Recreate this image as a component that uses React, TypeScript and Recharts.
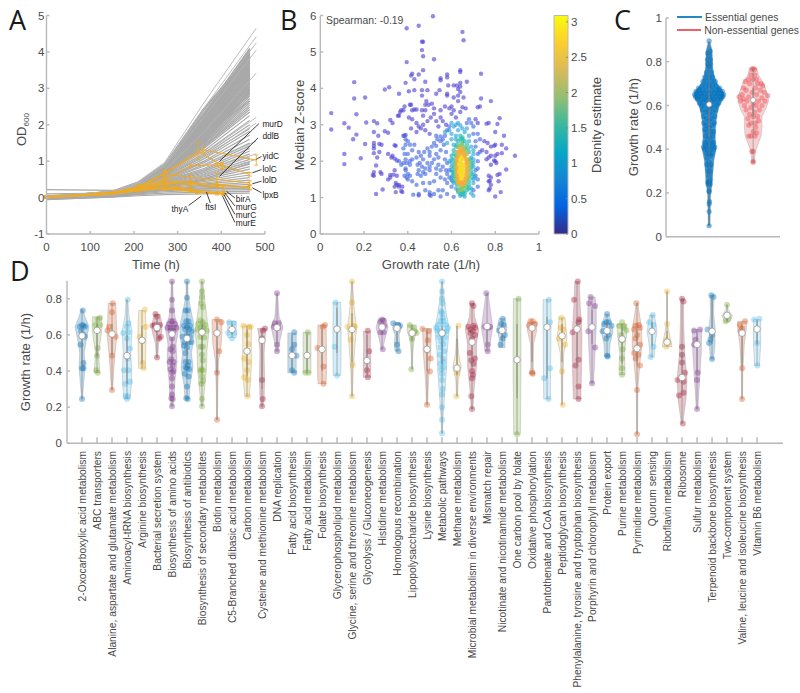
import React from 'react';
import { ComposedChart, ScatterChart, Line, Scatter, XAxis, YAxis, ErrorBar, ReferenceLine, ReferenceArea, Legend } from 'recharts';

const FONT = '"Liberation Sans", Arial, sans-serif';
const TXT = '#4a4a4a';
const AX = '#b8b8b8';

// ---------- Panel A ----------
const grayTimes = [0, 150, 210, 270, 360, 465];
const grayLongTimes = [0, 150, 210, 270, 360, 480];
const grayRows = [
  [.01,.17,.42,.92,2.32,4.1],[.02,.17,.41,.9,2.25,4.05],[.0,.16,.4,.88,2.2,4.0],[.03,.16,.4,.87,2.16,3.95],[.01,.16,.39,.85,2.12,3.9],
  [.02,.15,.38,.84,2.1,3.85],[.0,.15,.38,.83,2.06,3.8],[.04,.15,.37,.82,2.04,3.75],[.02,.15,.37,.81,2.02,3.72],[.01,.14,.36,.8,2.0,3.68],
  [.03,.14,.36,.8,1.97,3.62],[.0,.14,.36,.78,1.95,3.58],[.02,.14,.35,.78,1.93,3.54],[.01,.14,.35,.77,1.91,3.5],[.03,.14,.35,.76,1.88,3.44],
  [.02,.13,.34,.76,1.86,3.4],[.0,.13,.34,.75,1.84,3.36],[.01,.13,.34,.74,1.82,3.32],[.03,.13,.33,.74,1.8,3.27],[.02,.13,.33,.73,1.77,3.22],
  [.0,.13,.33,.72,1.75,3.17],[.01,.13,.32,.72,1.72,3.12],[.03,.12,.32,.71,1.7,3.07],[.02,.12,.32,.7,1.67,3.02],[.0,.12,.31,.7,1.64,2.96],
  [.01,.12,.31,.69,1.62,2.9],[.03,.12,.31,.68,1.59,2.84],[.02,.12,.3,.68,1.56,2.78],[.0,.12,.3,.67,1.53,2.72],[.01,.11,.3,.66,1.5,2.66],
  [.02,.11,.29,.65,1.47,2.6],[.0,.11,.29,.64,1.44,2.54],[.02,.11,.29,.63,1.41,2.48],[.01,.11,.28,.62,1.38,2.42],[.01,.11,.28,.62,1.35,2.35],
  [.0,.11,.28,.6,1.28,2.25],[.02,.1,.27,.58,1.22,2.12],[.01,.1,.27,.56,1.16,2.0],[.0,.1,.26,.55,1.12,1.9],[.02,.1,.26,.53,1.06,1.82],
  [.01,.1,.25,.52,1.0,1.72],[.0,.09,.25,.5,.96,1.6],[.02,.09,.24,.48,.9,1.5],[.01,.09,.24,.47,.86,1.42],[.0,.09,.23,.45,.8,1.35],
  [.02,.09,.23,.44,.76,1.28],[.01,.08,.22,.42,.72,1.2],[.0,.08,.22,.41,.68,1.12],[.02,.08,.21,.39,.64,1.05],[.01,.08,.21,.38,.6,.98],
  [.0,.08,.2,.36,.57,.92],[.02,.07,.19,.35,.53,.85],[.01,.07,.19,.33,.5,.78],[.0,.07,.18,.32,.47,.7],[.02,.07,.18,.3,.44,.62],
  [.01,.06,.17,.29,.4,.55],[.0,.06,.16,.27,.37,.48],[.02,.06,.15,.25,.33,.42],[.0,.06,.14,.23,.3,.36],[-.02,.05,.13,.21,.27,.31],
  [-.03,.04,.12,.19,.24,.27],[-.04,.03,.1,.16,.2,.22],[-.06,.02,.08,.12,.15,.17],[-.05,.01,.05,.08,.1,.12],[.22,.2,.2,.22,.24,.26],
  [.1,.12,.18,.28,.5,.95],[.05,.14,.3,.68,1.85,3.3],[.02,.15,.36,.86,2.4,3.98],[.01,.17,.4,.9,2.45,3.92],[.0,.14,.33,.75,2.2,3.75],
  [.01,.16,.38,.84,2.3,3.86],[.02,.15,.36,.8,2.18,3.7],[.0,.14,.35,.78,2.1,3.6],[.03,.14,.34,.76,2.02,3.48],[.01,.13,.33,.72,1.95,3.36],
  [.02,.13,.33,.7,1.88,3.25],[.0,.12,.31,.68,1.8,3.14],[.01,.12,.31,.66,1.72,3.05],[.02,.12,.3,.66,1.68,2.95],[.0,.12,.3,.64,1.62,2.88],
  [.01,.16,.39,.86,2.0,3.3],[.02,.15,.37,.83,1.95,3.15],[.0,.15,.36,.8,1.9,3.0],[.01,.14,.35,.78,1.82,2.8],[.03,.14,.34,.75,1.72,2.65],
  [.01,.16,.4,.89,2.28,4.08],[.02,.16,.39,.86,2.2,4.02],[.0,.15,.38,.85,2.14,3.97],[.02,.15,.37,.83,2.08,3.92],[.01,.15,.37,.82,2.06,3.88],
  [.03,.15,.36,.8,2.04,3.83],[.0,.14,.36,.8,2.02,3.78],[.01,.14,.35,.79,1.98,3.7],[.02,.14,.35,.78,1.96,3.66],[.0,.14,.35,.77,1.94,3.6],
  [.01,.13,.34,.76,1.9,3.56],[.03,.13,.34,.75,1.88,3.52],[.02,.13,.33,.74,1.85,3.46],[.0,.13,.33,.73,1.83,3.42],[.01,.13,.33,.72,1.8,3.38],
  [.02,.13,.32,.71,1.78,3.34],[.0,.12,.32,.7,1.75,3.29],[.01,.12,.32,.7,1.72,3.24],[.03,.12,.31,.69,1.7,3.2],[.02,.12,.31,.68,1.67,3.15],
  [.0,.12,.31,.67,1.64,3.1],[.01,.12,.3,.66,1.61,3.04],[.02,.12,.3,.65,1.58,2.98],[.0,.11,.3,.65,1.55,2.92],[.01,.11,.29,.64,1.52,2.86],
];
const grayLongRows = [
  [.02,.18,.44,.96,2.6,4.65],[.03,.17,.42,.92,2.45,4.42],[.0,.16,.41,.9,2.35,4.25],[.02,.15,.39,.86,2.2,4.05],[.01,.14,.35,.74,1.8,3.42],
  [.01,.1,.27,.55,1.2,2.2],[.02,.1,.25,.5,1.08,2.05],[.0,.09,.24,.46,.9,1.55],[.01,.08,.22,.42,.75,1.2],[.0,.08,.2,.37,.62,1.05],
];
const orangeSeries = [
  { t: [0,120,210,270,360,480], v: [.02,.08,.25,.65,1.31,1.03], e: [.02,.02,.05,.1,.08,.14] },
  { t: [0,150,210,270,347,402,465], v: [.0,.12,.3,.67,1.28,.88,.64], e: [.02,.02,.05,.08,.24,.08,.05] },
  { t: [0,120,210,270,330,390,402], v: [.03,.1,.25,.47,.87,.9,.85], e: [.02,.02,.04,.06,.03,.05,.08] },
  { t: [0,150,210,270,330,390,465], v: [.01,.14,.28,.66,.55,.5,.4], e: [.02,.02,.04,.06,.1,.16,.06] },
  { t: [0,120,180,270,330,390,465], v: [.02,.1,.2,.5,.42,.33,.28], e: [.02,.02,.03,.06,.05,.04,.07] },
  { t: [0,150,240,270,330,405], v: [.02,.13,.3,.4,.35,.27], e: [.02,.02,.05,.05,.04,.06] },
  { t: [0,150,210,270,345,405], v: [.0,.1,.18,.25,.16,.11], e: [.02,.02,.03,.06,.03,.04] },
  { t: [0,180,270,330,390,405], v: [.01,.16,.3,.22,.14,.12], e: [.02,.03,.05,.04,.03,.04] },
  { t: [0,120,210,300,345,405], v: [.03,.1,.24,.25,.15,.09], e: [.02,.02,.03,.03,.03,.03] },
  { t: [0,150,240,330,390], v: [.02,.12,.26,.18,.1], e: [.02,.02,.03,.04,.03] },
  { t: [0,120,210,270,330,345], v: [.01,.08,.22,.36,.22,.14], e: [.02,.02,.03,.06,.03,.03] },
  { t: [0,150,210,270,390,465], v: [.01,.12,.24,.42,.36,.28], e: [.02,.02,.03,.05,.05,.05] },
];
const geneLeaders = [
  { name: 'murD', a: [396,1.0], b: [486,2.03], lab: [494,2.03] },
  { name: 'ddlB', a: [396,.586], b: [484,1.64], lab: [494,1.68] },
  { name: 'yidC', a: [480,1.05], b: [492,1.13], lab: [494,1.15] },
  { name: 'lolC', a: [471,.68], b: [492,.77], lab: [494,.79] },
  { name: 'lolD', a: [471,.38], b: [492,.45], lab: [494,.47] },
  { name: 'lpxB', a: [471,.27], b: [492,.13], lab: [494,.08] },
  { name: 'birA', a: [412,.17], b: [431,-.01], lab: [433,-.05] },
  { name: 'murG', a: [408,.13], b: [431,-.23], lab: [433,-.26] },
  { name: 'murC', a: [406,.08], b: [431,-.46], lab: [433,-.47] },
  { name: 'murE', a: [403,.04], b: [431,-.68], lab: [433,-.7] },
];
const geneLeadersLow = [
  { name: 'thyA', a: [354,.04], b: [325,-.22], lab: [286,-.31] },
  { name: 'ftsI', a: [366,.15], b: [375,-.15], lab: [363,-.25] },
];
const geneLabels = [...geneLeaders, ...geneLeadersLow].map((g) => ({ x: g.lab[0], y: g.lab[1], name: g.name }));

// ---------- Panel B ----------
const densityPurple = [[.05,3.32],[.05,2.87],[.11,3.04],[.13,2.92],[.15,2.6],[.165,2.73],[.155,3.72],[.155,4.17],[.165,3.29],[.205,3.75],[.21,3.06],[.11,2.2],[.11,1.92],[.185,2.08],[.205,2.47],[.245,3.1],[.26,3.04],[.245,2.8],[.265,2.7],[.245,2.5],[.245,2.42],[.245,2.35],[.27,2.47],[.28,2.45],[.27,2.25],[.245,2.22],[.26,2.1],[.255,1.88],[.28,1.65],[.275,1.7],[.245,1.7],[.245,1.6],[.24,1.62],[.255,1.1],[.285,1.22],[.295,2.82],[.31,2.78],[.295,3.97],[.315,4.03],[.32,3.13],[.33,3.05],[.31,2.2],[.325,2.1],[.34,2.07],[.35,2.02],[.31,1.5],[.32,1.62],[.335,1.63],[.34,1.75],[.34,1.3],[.345,1.4],[.345,1.15],[.36,1.3],[.37,1.18],[.375,1.15],[.375,1.3],[.36,3.85],[.355,3.25],[.36,3.25],[.365,3.35],[.37,3.4],[.38,3.4],[.385,3.5],[.39,4.15],[.395,5.65],[.395,4.72],[.405,3.92],[.41,3.55],[.415,4.35],[.42,4.4],[.43,4.25],[.43,3.95],[.415,3.55],[.43,3.42],[.44,3.42],[.42,3.4],[.42,3.15],[.405,3.2],[.415,2.9],[.45,4.38],[.45,5.72],[.465,5.05],[.47,5.28],[.465,5.28],[.47,4.88],[.47,4.5],[.465,3.95],[.465,3.8],[.48,4.18],[.49,3.95],[.485,3.65],[.465,3.4],[.48,3.4],[.48,3.55],[.495,3.55],[.51,3.58],[.47,3.25],[.49,3.1],[.505,3.2],[.47,3.0],[.48,2.85],[.5,2.75],[.515,5.98],[.52,4.8],[.52,3.45],[.53,3.1],[.55,3.2],[.53,3.85],[.545,3.95],[.55,4.28],[.55,4.22],[.58,4.38],[.58,4.3],[.585,4.08],[.58,3.85],[.58,3.8],[.57,3.5],[.59,3.45],[.61,4.08],[.625,4.08],[.64,4.15],[.64,4.45],[.64,4.5],[.65,5.55],[.655,5.32],[.735,4.4],[.67,4.18],[.63,3.98],[.64,4.05],[.64,3.9],[.61,3.75],[.63,3.8],[.63,3.65],[.655,3.75],[.65,3.48],[.665,3.45],[.64,3.35],[.61,3.4],[.72,3.48],[.73,3.5],[.735,3.72],[.78,3.65],[.82,3.18],[.81,3.02],[.77,3.05],[.76,3.03],[.8,2.8],[.84,2.7],[.89,2.15],[.85,2.35],[.83,2.45],[.8,2.45],[.795,2.42],[.81,2.2],[.83,2.22],[.85,1.77],[.82,1.65],[.81,1.62],[.8,2.0],[.795,2.02],[.805,1.95],[.78,1.55],[.77,1.45],[.78,1.35],[.775,1.25],[.77,1.2],[.8,1.03],[.825,1.15],[.815,1.45],[.77,2.1],[.78,2.15],[.765,2.5],[.78,2.4],[.76,2.25],[.76,2.05],[.78,1.9],[.45,1.06],[.5,1.08],[.35,1.35],[.38,2.7],[.39,2.72],[.34,2.44],[.345,2.42],[.33,2.15],[.35,1.6],[.32,1.55],[.36,1.35],[.44,3.05],[.45,2.95],[.46,2.9],[.44,2.8],[.52,3.3],[.55,3.4],[.56,3.1],[.575,3.0],[.54,2.95],[.6,3.5],[.6,3.3],[.62,3.2],[.71,3.15],[.72,3.05],[.75,2.55],[.74,2.3],[.8,2.15],[.775,1.45],[.77,1.6]];
const densityBlue = [[.385,2.7],[.39,2.6],[.4,2.55],[.39,2.45],[.41,2.45],[.43,2.45],[.42,2.3],[.38,2.35],[.385,2.2],[.4,2.2],[.39,2.05],[.38,1.95],[.395,1.95],[.41,1.9],[.37,1.9],[.36,2.0],[.41,2.0],[.42,2.05],[.39,1.8],[.4,1.65],[.385,1.6],[.395,1.55],[.41,1.6],[.42,1.45],[.4,1.5],[.39,1.75],[.45,2.25],[.46,2.15],[.44,2.1],[.47,2.05],[.455,1.95],[.445,1.9],[.465,1.85],[.48,1.8],[.45,1.75],[.47,1.7],[.445,1.65],[.46,1.6],[.48,1.65],[.5,1.75],[.5,1.85],[.51,1.95],[.52,2.05],[.5,2.15],[.5,2.25],[.49,2.35],[.51,2.4],[.52,2.5],[.535,2.6],[.55,2.55],[.53,2.7],[.55,2.68],[.565,2.45],[.55,2.3],[.575,2.25],[.53,2.2],[.57,2.05],[.56,1.85],[.53,1.8],[.55,1.75],[.575,1.75],[.53,1.65],[.58,1.65],[.55,1.55],[.57,1.5],[.52,1.45],[.5,1.4],[.47,1.4],[.44,1.35],[.48,1.2],[.5,1.15],[.52,1.1],[.54,1.2],[.56,1.2],[.58,1.1],[.6,1.3],[.58,1.4],[.6,1.48],[.45,1.1],[.425,1.08],[.505,1.05],[.55,1.03],[.61,1.02],[.63,1.2],[.7,1.2],[.72,1.3],[.72,1.5],[.73,2.25],[.72,2.2],[.73,2.6],[.71,2.55],[.7,2.75],[.7,2.95],[.69,3.05],[.68,3.15],[.67,3.05],[.72,1.8],[.71,1.6],[.54,1.9],[.54,2.1],[.58,1.95],[.49,1.95],[.475,2.25],[.53,2.42],[.56,2.6],[.57,2.7],[.58,2.85],[.59,2.95],[.59,1.75],[.59,1.55],[.71,1.75],[.72,2.0],[.71,2.4],[.72,2.75]];
const densityLightBlue = [[.6,3.05],[.61,2.95],[.62,3.0],[.63,3.05],[.64,2.98],[.59,2.85],[.6,2.75],[.57,2.8],[.6,2.6],[.58,2.5],[.61,2.45],[.61,2.3],[.6,2.15],[.59,2.0],[.6,1.85],[.605,1.7],[.6,1.55],[.61,1.4],[.62,1.25],[.66,1.03],[.7,1.05],[.69,1.25],[.7,1.4],[.705,1.55],[.7,1.95],[.69,2.1],[.7,2.3],[.69,2.4],[.68,2.55],[.68,2.7],[.66,2.8],[.65,2.9],[.67,2.9],[.63,2.85],[.62,2.7],[.62,2.6],[.6,1.95],[.6,2.05],[.6,1.75],[.605,1.6],[.605,1.45],[.7,1.5],[.7,1.65],[.7,1.85],[.7,2.05],[.7,2.2],[.65,1.08],[.69,1.12],[.64,1.05]];
const densityTeal = [[.64,2.7],[.65,2.65],[.63,2.55],[.65,2.5],[.67,2.45],[.66,2.35],[.62,2.4],[.61,2.2],[.68,2.25],[.69,1.65],[.68,1.45],[.625,1.35],[.615,1.55],[.615,1.75],[.615,1.95],[.62,2.15],[.63,1.15],[.64,1.1],[.66,1.12],[.67,1.2],[.68,1.25],[.65,2.6],[.69,1.85],[.685,2.05],[.64,2.6],[.66,2.55],[.625,2.45],[.675,2.35],[.61,1.85],[.61,1.65],[.61,2.05],[.69,1.75],[.69,1.95],[.69,1.55],[.68,1.35],[.62,1.45],[.645,1.18],[.655,1.15],[.67,1.3]];
const densityGreen = [[.63,2.38],[.64,2.42],[.655,2.4],[.67,2.2],[.675,2.05],[.68,1.9],[.675,1.7],[.67,1.5],[.665,1.4],[.62,1.5],[.62,1.7],[.62,1.9],[.625,2.1],[.63,1.4],[.64,1.28],[.655,1.25],[.66,1.32],[.635,1.2],[.645,2.47],[.665,2.3],[.62,2.0],[.62,1.8],[.62,1.6],[.68,1.8],[.68,1.6],[.68,2.0],[.675,1.55],[.625,2.25],[.65,1.3],[.645,1.22]];
const densityOrange = [[.64,2.35],[.65,2.3],[.63,2.25],[.66,2.2],[.625,2.05],[.665,2.05],[.625,1.85],[.67,1.85],[.63,1.65],[.665,1.65],[.63,1.5],[.66,1.5],[.64,1.38],[.65,1.38],[.635,2.15],[.655,2.12],[.64,2.25],[.628,1.75],[.668,1.75],[.628,1.95],[.668,1.95],[.635,1.55],[.655,1.42],[.645,1.45],[.65,2.22],[.66,2.12],[.63,2.1],[.67,1.95],[.63,1.42],[.66,1.42],[.665,1.55],[.63,1.58],[.625,1.7],[.67,1.7],[.648,2.28]];
const densityYellow = [[.64,2.05],[.65,2.05],[.645,1.95],[.635,1.9],[.655,1.9],[.64,1.8],[.65,1.8],[.645,1.7],[.635,1.7],[.655,1.7],[.64,1.6],[.65,1.6],[.645,1.52],[.645,2.1],[.64,1.95],[.65,1.65],[.638,1.75],[.652,1.85],[.642,1.85],[.648,1.75]];
const densityBands = [
  { pts: densityPurple, color: '#4f42d2', op: .62 }, { pts: densityBlue, color: '#3a62e0', op: .6 },
  { pts: densityLightBlue, color: '#229fd8', op: .6 }, { pts: densityTeal, color: '#1ebcae', op: .65 },
  { pts: densityGreen, color: '#8fc663', op: .8 }, { pts: densityOrange, color: '#f5ad3a', op: .9 },
  { pts: densityYellow, color: '#f9d92c', op: .9 },
];
const parulaStops = ['#352a87','#0363e1','#1485d4','#06a7c6','#38b99e','#92bf73','#d9ba56','#fcce2e','#f9fb0e'];
const colorbarDomain = [{ x: 0, y: 0 }, { x: 1, y: 3.09 }];

// ---------- Panel C ----------
const essOutline = [[.05,.02],[.2,.035],[.24,.07],[.3,.09],[.35,.11],[.4,.16],[.45,.14],[.5,.15],[.55,.17],[.6,.23],[.63,.32],[.65,.35],[.67,.3],[.7,.18],[.74,.11],[.78,.08],[.85,.07],[.89,.02]];
const nonOutline = [[.34,.03],[.39,.05],[.46,.18],[.5,.2],[.55,.2],[.58,.28],[.62,.35],[.65,.33],[.7,.24],[.74,.12],[.77,.08]];
const essDots = [[0,.05],[0,.115],[0,.15],[.01,.16],[0,.205],[0,.21],[-.02,.24],[.02,.24],[0,.25],[-.03,.25],[.02,.26],[0,.28],[-.02,.3],[.02,.3],[0,.32],[-.05,.33],[.04,.33],[0,.34],[-.04,.36],[.03,.37],[0,.38],[-.06,.38],[.06,.38],[-.1,.4],[-.04,.4],[.03,.4],[.1,.4],[-.13,.41],[.13,.41],[-.07,.42],[.07,.42],[0,.42],[-.1,.43],[.1,.43],[-.04,.44],[.04,.44],[-.08,.46],[.08,.46],[0,.46],[-.05,.48],[.05,.48],[.1,.48],[-.1,.49],[0,.5],[-.07,.51],[.07,.51],[-.12,.52],[.12,.52],[0,.53],[-.06,.54],[.06,.54],[-.13,.55],[.13,.55],[0,.56],[-.08,.57],[.08,.57],[-.15,.58],[.15,.58],[-.03,.58],[.03,.59],[-.18,.6],[.18,.6],[-.1,.6],[.1,.6],[0,.6],[-.22,.61],[.22,.61],[-.14,.62],[.14,.62],[-.05,.62],[.05,.62],[-.27,.63],[.27,.63],[-.2,.63],[.2,.63],[-.1,.63],[.1,.63],[-.31,.64],[.31,.64],[-.25,.64],[.25,.64],[-.17,.645],[.17,.645],[-.07,.64],[.07,.64],[0,.64],[-.33,.65],[.33,.65],[-.28,.655],[.28,.655],[-.2,.655],[.2,.655],[-.12,.655],[.12,.655],[-.03,.655],[.03,.655],[-.3,.665],[.3,.665],[-.22,.67],[.22,.67],[-.15,.67],[.15,.67],[-.06,.67],[.06,.67],[-.24,.68],[.24,.68],[-.16,.69],[.16,.69],[-.08,.69],[.08,.69],[0,.69],[-.14,.71],[.14,.71],[-.05,.71],[.05,.71],[-.1,.73],[.08,.73],[0,.73],[-.06,.75],[.05,.75],[0,.77],[-.03,.79],[.03,.79],[0,.78],[-.04,.81],[.03,.81],[0,.83],[-.03,.84],[.02,.85],[0,.895]];
const nonDots = [[.0,.34],[0,.39],[.0,.345],[-.03,.39],[-.05,.46],[.04,.46],[.08,.475],[-.1,.46],[0,.48],[.06,.5],[-.1,.51],[-.05,.52],[.05,.52],[.12,.53],[-.12,.54],[0,.55],[.1,.55],[-.08,.56],[.03,.57],[-.16,.58],[.14,.58],[-.05,.59],[.07,.6],[-.2,.6],[.2,.6],[-.28,.62],[.27,.62],[-.14,.62],[.12,.62],[0,.61],[-.22,.63],[.2,.635],[-.32,.64],[.33,.645],[-.1,.64],[.08,.65],[-.25,.65],[.25,.66],[-.02,.66],[-.16,.67],[.16,.67],[.05,.68],[-.22,.68],[.22,.69],[-.08,.7],[.1,.7],[-.18,.71],[.18,.7],[0,.72],[-.1,.72],[.08,.72],[-.05,.74],[.04,.74],[-.03,.765],[.03,.765],[0,.77]];

// ---------- Panel D ----------
const categories = ['2-Oxocarboxylic acid metabolism','ABC transporters','Alanine, aspartate and glutamate metabolism','Aminoacyl-tRNA biosynthesis','Arginine biosynthesis','Bacterial secretion system','Biosynthesis of amino acids','Biosynthesis of antibiotics','Biosynthesis of secondary metabolites','Biotin metabolism','C5-Branched dibasic acid metabolism','Carbon metabolism','Cysteine and methionine metabolism','DNA replication','Fatty acid biosynthesis','Fatty acid metabolism','Folate biosynthesis','Glycerophospholipid metabolism','Glycine, serine and threonine metabolism','Glycolysis / Gluconeogenesis','Histidine metabolism','Homologous recombination','Lipopolysaccharide biosynthesis','Lysine biosynthesis','Metabolic pathways','Methane metabolism','Microbial metabolism in diverse environments','Mismatch repair','Nicotinate and nicotinamide metabolism','One carbon pool by folate','Oxidative phosphorylation','Pantothenate and CoA biosynthesis','Peptidoglycan biosynthesis','Phenylalanine, tyrosine and tryptophan biosynthesis','Porphyrin and chlorophyll metabolism','Protein export','Purine metabolism','Pyrimidine metabolism','Quorum sensing','Riboflavin metabolism','Ribosome','Sulfur metabolism','Terpenoid backbone biosynthesis','Two-component system','Valine, leucine and isoleucine biosynthesis','Vitamin B6 metabolism'];
const colorCycle = ['#0072BD','#77AC30','#D95319','#4DBEEE','#EDB120','#A2142F','#7E2F8E'];
const medians = [.595,.625,.605,.485,.57,.64,.605,.58,.615,.61,.63,.51,.57,.64,.486,.486,.52,.632,.63,.458,.643,.637,.61,.52,.61,.416,.56,.647,.625,.462,.638,.643,.595,.632,.643,.623,.577,.525,.62,.56,.364,.547,.62,.708,.61,.632];
const boxes = [[.42,.645],[.48,.66],[.49,.66],[.33,.6],[.44,.65],[.59,.68],[.42,.66],[.42,.65],[.42,.66],[.39,.67],[.6,.66],[.37,.63],[.3,.63],[.55,.66],[.4,.6],[.4,.6],[.4,.63],[.5,.75],[.45,.72],[.38,.6],[.6,.67],[.55,.66],[.57,.64],[.4,.62],[.44,.65],[.38,.58],[.42,.64],[.56,.66],[.57,.66],[.25,.66],[.45,.66],[.36,.7],[.45,.66],[.43,.68],[.55,.74],[.58,.67],[.44,.64],[.43,.63],[.54,.67],[.54,.62],[.27,.5],[.39,.62],[.55,.8],[.68,.72],[.43,.65],[.55,.68]];
const outlines = [
  [[.245,.03],[.3,.08],[.42,.2],[.5,.15],[.58,.3],[.645,.47],[.7,.2],[.74,.06]],
  [[.39,.18],[.41,.18],[.5,.1],[.58,.25],[.64,.33],[.7,.3]],
  [[.295,.04],[.4,.12],[.5,.2],[.6,.33],[.7,.28],[.775,.25]],
  [[.245,.2],[.33,.3],[.42,.3],[.5,.25],[.62,.33],[.7,.14],[.795,.05]],
  [[.415,.22],[.5,.25],[.6,.27],[.68,.25],[.735,.22]],
  [[.475,.05],[.55,.1],[.62,.33],[.66,.33],[.715,.2]],
  [[.205,.06],[.26,.15],[.35,.2],[.45,.33],[.55,.27],[.64,.45],[.7,.2],[.8,.08],[.895,.05]],
  [[.245,.13],[.32,.2],[.42,.4],[.5,.3],[.6,.47],[.66,.45],[.74,.25],[.82,.07],[.895,.05]],
  [[.205,.06],[.3,.17],[.42,.3],[.52,.33],[.62,.47],[.68,.35],[.78,.2],[.895,.05]],
  [[.13,.03],[.3,.05],[.45,.1],[.55,.28],[.62,.33],[.685,.33]],
  [[.585,.28],[.62,.28],[.675,.28]],
  [[.26,.15],[.36,.25],[.45,.3],[.55,.28],[.65,.3]],
  [[.205,.06],[.25,.14],[.35,.17],[.5,.14],[.6,.22],[.635,.3]],
  [[.51,.1],[.55,.14],[.6,.28],[.645,.4],[.7,.14],[.83,.04]],
  [[.39,.28],[.5,.28],[.61,.28]],
  [[.39,.26],[.5,.26],[.615,.26]],
  [[.33,.27],[.4,.3],[.52,.3],[.6,.28],[.655,.28]],
  [[.375,.25],[.5,.27],[.65,.27],[.78,.25]],
  [[.26,.03],[.4,.08],[.55,.2],[.64,.3],[.75,.14],[.895,.04]],
  [[.365,.25],[.45,.25],[.55,.22],[.62,.24]],
  [[.52,.05],[.58,.2],[.64,.4],[.69,.25]],
  [[.51,.14],[.55,.18],[.6,.14],[.64,.3],[.67,.2]],
  [[.41,.03],[.5,.05],[.58,.15],[.62,.33],[.655,.28]],
  [[.213,.04],[.35,.1],[.5,.25],[.6,.28],[.635,.3]],
  [[.055,.03],[.15,.07],[.3,.2],[.42,.3],[.5,.33],[.6,.45],[.64,.47],[.72,.28],[.8,.14],[.895,.03]],
  [[.26,.03],[.35,.08],[.42,.28],[.5,.1],[.58,.04],[.65,.03]],
  [[.19,.06],[.3,.14],[.42,.3],[.55,.3],[.63,.45],[.7,.17],[.775,.13]],
  [[.51,.14],[.55,.2],[.64,.38],[.72,.25],[.83,.07]],
  [[.53,.2],[.58,.2],[.64,.33],[.69,.2]],
  [[.05,.22],[.4,.26],[.6,.26],[.8,.24]],
  [[.385,.2],[.42,.08],[.55,.1],[.62,.3],[.67,.32]],
  [[.245,.22],[.5,.25],[.7,.27],[.795,.25]],
  [[.213,.03],[.35,.05],[.5,.12],[.58,.33],[.64,.25],[.695,.2]],
  [[.245,.25],[.4,.3],[.6,.33],[.75,.22],[.895,.15]],
  [[.333,.1],[.5,.2],[.65,.28],[.75,.28],[.81,.2]],
  [[.48,.16],[.55,.2],[.62,.4],[.68,.27],[.715,.1]],
  [[.38,.2],[.42,.2],[.5,.15],[.6,.3],[.66,.33]],
  [[.05,.03],[.3,.05],[.45,.2],[.55,.33],[.65,.28],[.775,.05]],
  [[.477,.14],[.55,.2],[.62,.33],[.71,.15]],
  [[.535,.33],[.58,.22],[.66,.03],[.84,.03]],
  [[.11,.05],[.25,.27],[.36,.33],[.5,.17],[.7,.1],[.8,.1]],
  [[.19,.05],[.35,.17],[.5,.28],[.58,.3],[.63,.3]],
  [[.466,.1],[.55,.2],[.64,.2],[.72,.1],[.82,.14]],
  [[.67,.15],[.708,.35],[.74,.07],[.767,.03]],
  [[.245,.03],[.4,.05],[.55,.15],[.63,.28],[.675,.3]],
  [[.43,.16],[.55,.24],[.685,.24]],
];
const violinDots = [
  [[.05,.735],[-.15,.645],[.2,.645],[0,.655],[.1,.65],[-.05,.62],[.1,.6],[-.1,.545],[.1,.445],[0,.415],[.1,.415],[0,.245],[.2,.59]],
  [[.2,.695],[.05,.685],[-.1,.655],[.2,.655],[0,.63],[.05,.527],[0,.485],[-.05,.405],[.05,.39]],
  [[.05,.775],[0,.725],[-.2,.645],[-.3,.625],[.25,.59],[0,.485],[0,.295]],
  [[.05,.795],[.1,.665],[0,.645],[-.25,.61],[.1,.615],[0,.58],[.2,.525],[.05,.47],[-.2,.405],[.1,.405],[-.1,.33],[.2,.34],[-.1,.26],[.05,.26],[0,.245]],
  [[.18,.74],[.25,.645],[-.15,.59],[0,.565],[.05,.445],[.1,.415]],
  [[-.1,.715],[0,.7],[-.15,.655],[.2,.655],[.05,.645],[-.3,.65],[0,.63],[.25,.59],[.15,.58],[0,.475]],
  [[0,.895],[0,.795],[0,.735],[-.05,.675],[.05,.675],[-.2,.66],[.2,.66],[-.3,.64],[-.1,.64],[.1,.64],[.3,.64],[-.1,.625],[.1,.62],[0,.58],[.05,.535],[-.1,.52],[.05,.51],[-.05,.465],[.1,.45],[-.15,.45],[.05,.43],[-.1,.41],[.1,.4],[0,.39],[0,.36],[0,.315],[0,.27],[-.05,.25],[.05,.245],[0,.205]],
  [[0,.895],[0,.805],[-.1,.735],[.05,.735],[-.05,.675],[.1,.675],[-.2,.65],[.2,.65],[0,.645],[-.1,.63],[.15,.63],[.3,.62],[-.3,.59],[0,.6],[.2,.59],[-.15,.56],[.1,.56],[.3,.56],[-.2,.54],[0,.53],[-.1,.5],[.1,.45],[-.1,.45],[.05,.43],[-.1,.42],[0,.415],[.15,.41],[-.15,.385],[.1,.37],[0,.315],[-.05,.25],[.05,.245]],
  [[0,.895],[0,.84],[0,.81],[-.05,.775],[.05,.755],[-.1,.68],[.05,.67],[-.25,.66],[.2,.655],[-.1,.64],[.1,.64],[-.3,.63],[.3,.625],[0,.62],[-.1,.59],[.15,.585],[.05,.535],[-.1,.535],[0,.49],[.05,.46],[-.05,.41],[.05,.405],[-.1,.4],[0,.37],[.05,.345],[-.05,.33],[0,.245],[0,.205]],
  [[0,.685],[.3,.67],[-.05,.61],[.15,.51],[0,.39],[0,.13]],
  [[-.2,.67],[.1,.665],[-.25,.61],[.15,.61],[0,.58]],
  [[-.25,.65],[.1,.645],[.25,.645],[0,.6],[.1,.55],[-.2,.47],[.1,.45],[0,.405],[-.2,.365],[.05,.35],[.05,.26]],
  [[.2,.635],[.05,.625],[0,.58],[0,.35],[.05,.245],[0,.205]],
  [[0,.83],[-.15,.665],[.1,.665],[-.2,.645],[.1,.64],[0,.545],[0,.51]],
  [[.15,.615],[.15,.545],[0,.52],[.3,.485],[0,.405],[.15,.39]],
  [[.05,.615],[0,.485],[-.1,.39],[.1,.39]],
  [[.2,.655],[.05,.645],[-.3,.527],[.1,.425],[.1,.33]],
  [[-.1,.78],[-.15,.535],[0,.375]],
  [[0,.895],[0,.78],[-.3,.645],[.1,.65],[.2,.645],[-.1,.573],[.05,.435],[0,.26]],
  [[.05,.623],[.15,.51],[0,.457],[0,.405],[.05,.366]],
  [[.0,.685],[.1,.68],[-.1,.67],[.15,.65],[-.1,.615],[.1,.615],[.05,.52]],
  [[-.25,.665],[.05,.655],[.2,.65],[0,.545],[.1,.51]],
  [[-.15,.655],[.05,.64],[.2,.62],[.3,.61],[0,.577],[-.05,.41]],
  [[-.3,.632],[.1,.62],[.05,.57],[0,.518],[.25,.47],[.2,.397],[0,.213]],
  [[0,.895],[0,.84],[0,.8],[.05,.775],[-.05,.73],[0,.72],[.05,.695],[-.1,.675],[.1,.675],[-.25,.655],[.25,.655],[-.4,.64],[.4,.64],[-.3,.625],[.3,.62],[-.15,.62],[.15,.615],[0,.6],[-.2,.59],[.2,.585],[-.05,.565],[.1,.55],[-.1,.53],[.15,.51],[-.15,.49],[.05,.47],[.1,.45],[-.1,.44],[.1,.42],[-.05,.41],[0,.385],[0,.35],[.05,.3],[0,.27],[0,.2],[0,.13],[0,.055]],
  [[.1,.65],[0,.415],[0,.39],[-.05,.26]],
  [[0,.775],[.1,.76],[-.25,.645],[.1,.65],[-.1,.63],[.2,.64],[.05,.62],[-.1,.61],[.2,.6],[0,.58],[-.15,.5],[.2,.47],[-.05,.46],[.1,.44],[0,.4],[.05,.38],[0,.36],[-.05,.26],[0,.19]],
  [[-.05,.83],[-.15,.645],[.2,.645],[.1,.64],[.05,.545],[.05,.51]],
  [[.05,.69],[-.05,.66],[.1,.655],[.05,.58],[-.1,.545],[-.2,.625],[.2,.6]],
  [[.1,.8],[0,.462],[0,.05]],
  [[-.1,.675],[.05,.675],[.2,.66],[-.2,.65],[.0,.39],[.05,.385]],
  [[.12,.795],[.2,.67],[.2,.415],[-.2,.36],[.1,.245]],
  [[-.05,.695],[-.1,.64],[.1,.63],[-.2,.58],[.2,.545],[0,.397],[.05,.213]],
  [[.05,.895],[-.2,.795],[.15,.685],[.1,.67],[-.3,.615],[.1,.462],[-.1,.43],[.1,.315],[.1,.245]],
  [[-.1,.81],[-.2,.775],[.2,.76],[-.25,.62],[.2,.53],[0,.333]],
  [[0,.715],[-.05,.67],[.1,.67],[-.2,.66],[.3,.65],[-.3,.62],[.1,.6],[-.05,.58],[0,.485],[.05,.48]],
  [[0,.67],[.1,.65],[-.2,.65],[.1,.64],[.3,.625],[-.05,.6],[0,.57],[.05,.52],[0,.47],[0,.415],[0,.38]],
  [[-.05,.775],[-.1,.65],[.1,.655],[.2,.64],[-.2,.63],[0,.6],[-.1,.58],[.2,.545],[-.2,.5],[.1,.49],[-.1,.47],[.2,.43],[0,.295],[0,.05]],
  [[.05,.71],[-.2,.67],[.1,.655],[0,.62],[.1,.535],[-.1,.477]],
  [[0,.84],[0,.66],[-.05,.57],[.1,.555],[-.05,.535]],
  [[0,.8],[.1,.785],[0,.535],[0,.49],[0,.447],[.2,.39],[-.3,.35],[.1,.34],[-.2,.265],[.1,.28],[.05,.11]],
  [[-.2,.625],[.2,.63],[-.1,.573],[-.2,.545],[.05,.39],[0,.35],[0,.19]],
  [[-.05,.82],[.1,.81],[-.3,.63],[0,.6],[-.1,.575],[-.2,.555],[.0,.466]],
  [[0,.767],[0,.708],[-.1,.675],[.1,.69]],
  [[-.15,.655],[.2,.675],[0,.635],[-.1,.62],[0,.415],[0,.245]],
  [[-.2,.685],[.15,.69],[0,.555],[.02,.43]],
];

// ---------- helpers ----------
const mapXY = (rows: number[][]) => rows.map(([x, y]) => ({ x, y }));
const outlineAt = (c: number, o: number[][]) => [
  ...o.map(([y, w]) => ({ x: c - w, y })),
  ...[...o].reverse().map(([y, w]) => ({ x: c + w, y })),
];
const dotsAt = (c: number, d: number[][]) => d.map(([dx, y]) => ({ x: c + dx, y }));
const noShape = () => <g />;
const dotShape = (r: number, fill: string, op: number) => (p: any) => (
  <circle cx={p.cx} cy={p.cy} r={r} fill={fill} fillOpacity={op} />
);
const medianShape = (r: number) => (p: any) => (
  <circle cx={p.cx} cy={p.cy} r={r} fill="#fff" stroke="#8c8c8c" strokeWidth={0.7} />
);
const tickStyle = { fontSize: 11.5, fontFamily: FONT, fill: TXT };
const axisLine = { stroke: AX, strokeWidth: 1.4 };

function violin(key: string, c: number, o: number[][], box: number[], dots: number[][], med: number, color: string, opt: { r: number; fillOp: number; dotOp: number; medR: number; boxW: number; legend?: string }) {
  const ys = o.map((p) => p[0]);
  const lo = ys[0];
  const hi = ys[ys.length - 1];
  return [
    <Scatter key={key + 'o'} name={opt.legend} legendType={opt.legend ? 'plainline' : 'none'} data={outlineAt(c, o)} fill={color} shape={noShape} isAnimationActive={false}
      line={{ fill: color, fillOpacity: opt.fillOp, stroke: '#8a8a8a', strokeOpacity: .45, strokeWidth: .7 }} lineJointType="linearClosed" />,
    <Scatter key={key + 'd'} legendType="none" data={dotsAt(c, dots)} shape={dotShape(opt.r, color, opt.dotOp)} isAnimationActive={false} />,
    <Scatter key={key + 'w'} legendType="none" data={[{ x: c, y: lo }, { x: c, y: hi }]} shape={noShape} isAnimationActive={false}
      line={{ stroke: '#7d7d7d', strokeOpacity: .65, strokeWidth: .9 }} />,
    <Scatter key={key + 'b'} legendType="none" data={[{ x: c, y: box[0] }, { x: c, y: box[1] }]} shape={noShape} isAnimationActive={false}
      line={{ stroke: '#7d7d7d', strokeOpacity: .55, strokeWidth: opt.boxW }} />,
    <Scatter key={key + 'm'} legendType="none" data={[{ x: c, y: med }]} shape={medianShape(opt.medR)} isAnimationActive={false} />,
  ];
}

const CategoryTick = (p: any) => (
  <text x={p.x} y={181} transform={`rotate(-90 ${p.x} 181)`} textAnchor="end" dominantBaseline="central" fontSize={10.25} fontFamily={FONT} fill={TXT}>
    {categories[p.payload.value - 1]}
  </text>
);

const LegendRows = ({ payload }: any) => (
  <div style={{ whiteSpace: 'nowrap', fontSize: 10.4, fontFamily: FONT, color: TXT, lineHeight: '13px' }}>
    {(payload || []).map((e: any) => (
      <div key={e.value} style={{ display: 'flex', alignItems: 'center', height: 13 }}>
        <span style={{ display: 'inline-block', width: 25, height: 1.4, background: e.color, marginRight: 3, opacity: .85 }} />
        <span>{e.value}</span>
      </div>
    ))}
  </div>
);

const abs = (left: number, top: number): React.CSSProperties => ({ position: 'absolute', left, top });
const Title = ({ x, y, rot, children, size = 13 }: any) => (
  <text x={x} y={y} transform={rot ? `rotate(-90 ${x} ${y})` : undefined} textAnchor="middle" fontSize={size} fontFamily={FONT} fill={TXT}>{children}</text>
);
const Letter = ({ x, y, c }: any) => <text x={x} y={y} fontSize={27} fontFamily='"Open Sans", sans-serif' fill="#1a1a1a">{c}</text>;

export default function App() {
  return (
    <div style={{ position: 'absolute', left: 0, top: 0, width: 800, height: 693, background: '#fff', overflow: 'hidden' }}>
      {/* Panel A */}
      <div style={abs(0, 0)}>
        <ComposedChart width={300} height={270} margin={{ left: 0, top: 15.5, right: 35, bottom: 0 }}>
          <XAxis type="number" dataKey="x" domain={[0, 500]} ticks={[0, 100, 200, 300, 400, 500]} height={36} tickSize={-3} tickMargin={12} axisLine={axisLine} tickLine={axisLine} tick={tickStyle} allowDuplicatedCategory={false} />
          <YAxis type="number" dataKey="y" domain={[-1, 5]} ticks={[-1, 0, 1, 2, 3, 4, 5]} width={46.5} tickSize={-3} tickMargin={5} axisLine={axisLine} tickLine={axisLine} tick={tickStyle} />
          {grayRows.map((r, i) => (
            <Line key={'g' + i} data={r.map((y, j) => ({ x: grayTimes[j], y }))} dataKey="y" stroke="#a9a9a9" strokeWidth={1.2} dot={false} isAnimationActive={false} />
          ))}
          {grayLongRows.map((r, i) => (
            <Line key={'gl' + i} data={r.map((y, j) => ({ x: grayLongTimes[j], y }))} dataKey="y" stroke="#b4b4b4" strokeWidth={.9} dot={false} isAnimationActive={false} />
          ))}
          {orangeSeries.map((s, i) => (
            <Line key={'o' + i} data={s.t.map((x, j) => ({ x, y: s.v[j], e: s.e[j] }))} dataKey="y" stroke="#EFAA22" strokeWidth={1} dot={false} isAnimationActive={false}>
              <ErrorBar dataKey="e" direction="y" width={2} stroke="#EFAA22" strokeWidth={.8} isAnimationActive={false} />
            </Line>
          ))}
          {[...geneLeaders, ...geneLeadersLow].map((g) => (
            <ReferenceLine key={g.name} segment={[{ x: g.a[0], y: g.a[1] }, { x: g.b[0], y: g.b[1] }]} stroke="#111" strokeWidth={.8} ifOverflow="visible" />
          ))}
          <Scatter data={geneLabels} shape={(p: any) => (
            <text x={p.cx} y={p.cy} dominantBaseline="central" fontSize={8.4} fontFamily={FONT} fill="#222">{p.payload.name}</text>
          )} isAnimationActive={false} />
        </ComposedChart>
      </div>

      {/* Panel B */}
      <div style={abs(280, 0)}>
        <ScatterChart width={270} height={270} margin={{ left: 0, top: 15.5, right: 11, bottom: 0 }}>
          <XAxis type="number" dataKey="x" domain={[0, 1]} ticks={[0, .2, .4, .6, .8, 1]} height={36} tickSize={-3} tickMargin={12} axisLine={axisLine} tickLine={axisLine} tick={tickStyle} />
          <YAxis type="number" dataKey="y" domain={[0, 6]} ticks={[0, 1, 2, 3, 4, 5, 6]} width={40.3} tickSize={-3} tickMargin={7} axisLine={axisLine} tickLine={axisLine} tick={tickStyle} />
          {densityBands.map((b, i) => (
            <Scatter key={i} data={mapXY(b.pts)} shape={dotShape(2.2, b.color, b.op)} isAnimationActive={false} />
          ))}
        </ScatterChart>
      </div>

      {/* Colour bar */}
      <div style={abs(550, 0)}>
        <ScatterChart width={50} height={240} margin={{ left: 4, top: 15.5, right: 0, bottom: 6 }}>
          <XAxis type="number" dataKey="x" domain={[0, 1]} hide />
          <YAxis type="number" dataKey="y" orientation="right" domain={[0, 3.09]} ticks={[0, .5, 1, 1.5, 2, 2.5, 3]} width={32} tickSize={-2} tickMargin={5} axisLine={false} tickLine={{ stroke: '#888' }} tick={tickStyle} />
          <Scatter data={colorbarDomain} shape={noShape} isAnimationActive={false} />
          <ReferenceArea x1={0} x2={1} y1={0} y2={3.09} fill="url(#parula)" fillOpacity={1} stroke={AX} strokeWidth={1} />
        </ScatterChart>
      </div>

      {/* Panel C */}
      <div style={abs(600, 0)}>
        <ScatterChart width={200} height={260} margin={{ left: 0, top: 18, right: 20, bottom: 0 }}>
          <XAxis type="number" dataKey="x" domain={[.02, 2.61]} ticks={[1, 2]} tick={false} height={23.3} tickSize={-3} axisLine={axisLine} tickLine={axisLine} />
          <YAxis type="number" dataKey="y" domain={[0, 1]} ticks={[0, .2, .4, .6, .8, 1]} width={66} tickSize={-3} tickMargin={7} axisLine={axisLine} tickLine={axisLine} tick={tickStyle} />
          {violin('e', 1, essOutline, [.46, .66], essDots, .605, '#0072BD', { r: 2.6, fillOp: .75, dotOp: .5, medR: 2.6, boxW: 1.6, legend: 'Essential genes' })}
          {violin('n', 2, nonOutline, [.55, .68], nonDots, .625, '#E8454A', { r: 2.6, fillOp: .25, dotOp: .42, medR: 2.6, boxW: 1.6, legend: 'Non-essential genes' })}
          <Legend layout="vertical" align="center" verticalAlign="middle" content={<LegendRows />}
            wrapperStyle={{ left: 77, top: 10.5, bottom: 'auto', right: 'auto', width: 122, margin: 0 }} />
        </ScatterChart>
      </div>

      {/* Panel D */}
      <div style={abs(0, 270)}>
        <ScatterChart width={800} height={423} margin={{ left: 0, top: 10.7, right: 17, bottom: 0 }}>
          <XAxis type="number" dataKey="x" domain={[0, 47.73]} ticks={categories.map((_, i) => i + 1)} interval={0} height={249.7} tickSize={-6} axisLine={axisLine} tickLine={axisLine} tick={<CategoryTick />} />
          <YAxis type="number" dataKey="y" domain={[0, .9]} ticks={[0, .2, .4, .6, .8]} width={67} tickSize={-3} tickMargin={8} axisLine={axisLine} tickLine={axisLine} tick={tickStyle} />
          {categories.flatMap((_, i) => violin('v' + i, i + 1, outlines[i], boxes[i], violinDots[i], medians[i], colorCycle[i % 7], { r: 3, fillOp: .25, dotOp: .38, medR: 3.3, boxW: 1.5 }))}
        </ScatterChart>
      </div>

      {/* Gradient definition, titles and panel letters */}
      <svg width={800} height={693} style={{ position: 'absolute', left: 0, top: 0, pointerEvents: 'none', zIndex: -1 }}>
        <defs>
          <linearGradient id="parula" x1="0" y1="1" x2="0" y2="0">
            {parulaStops.map((c, i) => <stop key={c} offset={i / (parulaStops.length - 1)} stopColor={c} />)}
          </linearGradient>
        </defs>
      </svg>
      <svg width={800} height={693} style={{ position: 'absolute', left: 0, top: 0, pointerEvents: 'none' }}>
        <Letter x={9} y={29.5} c="A" />
        <Letter x={280} y={29.5} c="B" />
        <Letter x={614} y={29.5} c="C" />
        <Letter x={10} y={281} c="D" />
        <text x={26} y={146} transform="rotate(-90 26 146)" fontSize={13} fontFamily={FONT} fill={TXT}>OD<tspan fontSize={8} dy={3}>600</tspan></text>
        <Title x={156} y={269}>Time (h)</Title>
        <Title x={431} y={269}>Growth rate (1/h)</Title>
        <Title x={304} y={125} rot>Median Z-score</Title>
        <Title x={601} y={125} rot>Desnity estimate</Title>
        <Title x={638} y={127} rot>Growth rate (1/h)</Title>
        <Title x={30} y={362} rot>Growth rate (1/h)</Title>
        <text x={326} y={24} fontSize={10.4} fontFamily={FONT} fill={TXT}>Spearman: -0.19</text>
      </svg>
    </div>
  );
}
